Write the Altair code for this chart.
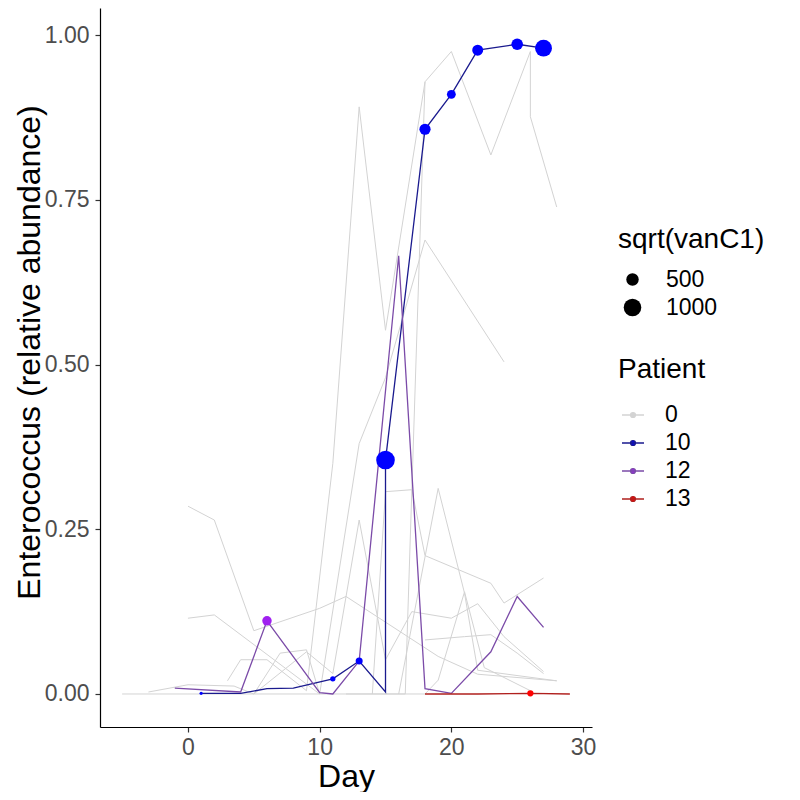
import altair as alt
import pandas as pd

PATIENT_ORDER = ["0", "10", "12", "13"]
LINE_COLORS = ["#d3d3d3", "#1a1a8e", "#7b4ba8", "#b0201e"]
POINT_COLORS = ["#d3d3d3", "#0000ff", "#a020f0", "#ff0000"]

# other patients (grey), one list per patient
GREY_DAYS = [
    [-5, 0, 5, 10, 15, 18],
    [0, 2, 5, 10, 12, 19, 22, 28],
    [9, 11, 13, 15, 18, 20, 23, 26, 26, 28],
    [10, 13, 15, 18, 24],
    [12, 16.5, 18],
    [14, 15, 17, 18, 23, 24, 27],
    [16, 19, 21, 22, 28],
    [18, 19, 21, 22.5, 26],
    [5, 9, 11, 13, 15, 17, 20, 22, 24, 27],
    [18, 21, 23, 25, 27],
    [0, 2, 10],
    [3, 4, 6, 9],
    [-3, 0, 3.5, 5],
    [5, 7, 9, 10],
]
GREY_VALS = [
    [0, 0, 0, 0, 0, 0],
    [0.285, 0.264, 0.096, 0.13, 0.148, 0.057, 0.03, 0.02],
    [0.005, 0.35, 0.891, 0.552, 0.929, 0.975, 0.818, 0.975, 0.876, 0.739],
    [0.0, 0.38, 0.48, 0.689, 0.504],
    [0.0, 0.0, 0.929],
    [0.0, 0.307, 0.31, 0.21, 0.168, 0.138, 0.176],
    [0.0, 0.312, 0.153, 0.036, 0.02],
    [0.0, 0.021, 0.155, 0.04, 0.005],
    [0.0, 0.064, 0.031, 0.264, 0.052, 0.125, 0.115, 0.137, 0.087, 0.034],
    [0.082, 0.087, 0.09, 0.062, 0.031],
    [0.115, 0.12, 0.0],
    [0.02, 0.052, 0.052, 0.005],
    [0.003, 0.014, 0.012, 0.0],
    [0.0, 0.062, 0.067, 0.0],
]

P10_DAYS = [1, 4, 6, 8, 11, 13, 15, 15, 18, 20, 22, 25, 27]
P10_VALS = [0.001, 0.001, 0.008, 0.009, 0.023, 0.05, 0.003, 0.355, 0.857, 0.91, 0.977, 0.986, 0.98]
P10_VANC = [34, None, None, None, 92, 159, None, 1115, 402, 252, 386, 436, 914]

P12_DAYS = [-1, 4, 6, 10, 11, 13, 16, 18, 20, 23, 25, 27]
P12_VALS = [0.009, 0.003, 0.111, 0.002, 0.0, 0.05, 0.665, 0.008, 0.001, 0.064, 0.148, 0.101]
P12_VANC = [None, None, 289, None, None, None, None, None, None, None, None, None]

P13_DAYS = [18, 22, 26, 29]
P13_VALS = [0.0, 0.0, 0.001, 0.0]
P13_VANC = [None, None, 126, None]

line_col = dict(zip(PATIENT_ORDER, LINE_COLORS))
rows = []
for i, (ds, vs) in enumerate(zip(GREY_DAYS, GREY_VALS)):
    for j, (d, v) in enumerate(zip(ds, vs)):
        rows.append(dict(patient="0", sid=f"g{i}", seq=j, day=d, val=v, vanc=None))
for pid, ds, vs, vc in [("10", P10_DAYS, P10_VALS, P10_VANC),
                        ("12", P12_DAYS, P12_VALS, P12_VANC),
                        ("13", P13_DAYS, P13_VALS, P13_VANC)]:
    for j, (d, v, c) in enumerate(zip(ds, vs, vc)):
        rows.append(dict(patient=pid, sid="p" + pid, seq=j, day=d, val=v, vanc=c))
df = pd.DataFrame(rows)
df["lcolor"] = df["patient"].map(line_col)
grey_df = df[df.patient == "0"]
col_df = df[df.patient != "0"]
pts_df = col_df.dropna(subset=["vanc"]).copy()

FONT = "Liberation Sans"
xsc = alt.Scale(domain=[-6.68, 30.68], nice=False, zero=False)
ysc = alt.Scale(domain=[-0.0501, 1.041], nice=False, zero=False)
xenc = alt.X("day:Q", scale=xsc, title="Day",
             axis=alt.Axis(values=[0, 10, 20, 30], format="d"))
yenc = alt.Y("val:Q", scale=ysc, title="Enterococcus (relative abundance)",
             axis=alt.Axis(values=[0, 0.25, 0.5, 0.75, 1.0], format=".2f",
                           titleX=-54, titleY=344))

LEG_PATH = "M-1,0L1,0M0.22,0A0.22,0.22,0,1,1,-0.22,0A0.22,0.22,0,1,1,0.22,0Z"
pat_legend = alt.Legend(title="Patient", orient="none", legendX=518, legendY=348,
                        symbolType=LEG_PATH, symbolSize=484, symbolStrokeWidth=1.4,
                        symbolOffset=3, labelOffset=20, titlePadding=19)

grey = alt.Chart(grey_df).mark_line(strokeWidth=1.0).encode(
    x=xenc, y=yenc, color=alt.Color("lcolor:N", scale=None),
    detail="sid:N", order="seq:Q")
colored = alt.Chart(col_df).mark_line(strokeWidth=1.3).encode(
    x=xenc, y=yenc, color=alt.Color("lcolor:N", scale=None),
    detail="sid:N", order="seq:Q")
points = alt.Chart(pts_df).mark_point(filled=True, opacity=1, strokeWidth=0).encode(
    x=xenc, y=yenc,
    fill=alt.Fill("patient:N", scale=alt.Scale(domain=PATIENT_ORDER, range=POINT_COLORS),
                  legend=pat_legend),
    stroke=alt.Stroke("patient:N", scale=alt.Scale(domain=PATIENT_ORDER, range=LINE_COLORS),
                      legend=pat_legend),
    size=alt.Size("vanc:Q", scale=alt.Scale(domain=[0, 1000], range=[0, 310]),
                  legend=alt.Legend(title="sqrt(vanC1)", orient="none",
                                    legendX=518, legendY=218, values=[500, 1000],
                                    format="d", symbolOffset=3, labelOffset=22,
                                    titlePadding=14,
                                    symbolType="circle", symbolFillColor="black",
                                    symbolStrokeColor="black", symbolStrokeWidth=0)))

chart = alt.layer(grey, colored, points).properties(
    width=492, height=719,
    autosize=alt.AutoSizeParams(type="none"),
    padding={"left": 92, "top": 0, "right": 200, "bottom": 65},
).configure_view(strokeWidth=0).configure_axis(
    grid=False, domainColor="black", domainWidth=1.2,
    tickColor="#333333", tickWidth=1.2, tickSize=5,
    labelFont=FONT, labelFontSize=23, labelColor="#4d4d4d",
    titleFont=FONT, titleFontSize=32, titleFontWeight="normal", titleColor="black",
).configure_axisY(labelPadding=6).configure_axisX(
    titlePadding=2, labelPadding=4).configure_legend(
    titleFont=FONT, titleFontSize=28, titleFontWeight="normal", titleColor="black",
    labelFont=FONT, labelFontSize=23, labelColor="black", rowPadding=4,
)

chart.save("out.html", embed_options={"renderer": "svg", "actions": False})
